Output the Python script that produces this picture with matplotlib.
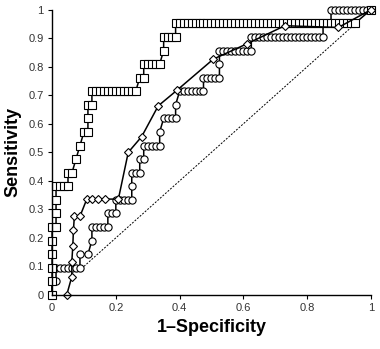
import matplotlib
matplotlib.use('Agg')
import matplotlib.pyplot as plt

plt.rcParams['font.family'] = ['Liberation Sans', 'DejaVu Sans']

# ROC data: false positives out of 80, true positives out of 21
N_NEG = 80
N_POS = 21

# squares
sq_fp = [0, 0, 0, 0, 0, 0, 1, 1, 1, 1, 2, 3, 4, 4, 5, 6, 7, 8, 9, 9, 9, 10,
         10, 11, 12, 13, 14, 15, 16, 17, 18, 19, 20, 21,
         22, 23, 23, 24, 25, 26, 27, 28, 28, 29, 30, 31,
         31, 32, 33, 34, 35, 36, 37, 38, 39, 40, 41, 42, 43, 44, 45, 46, 47, 48,
         49, 50, 51, 52, 53, 54, 55, 56, 57, 58, 59, 60, 61, 62, 63, 64, 65, 66,
         67, 68, 69, 70, 71, 72, 73, 74, 75, 76, 80]
sq_tp = [0, 1, 2, 3, 4, 5, 5, 6, 7, 8, 8, 8, 8, 9, 9, 10, 11, 12, 12, 13, 14, 14,
         15, 15, 15, 15, 15, 15, 15, 15, 15, 15, 15, 15,
         16, 16, 17, 17, 17, 17, 17, 18, 19, 19, 19, 19,
         20, 20, 20, 20, 20, 20, 20, 20, 20, 20, 20, 20, 20, 20, 20, 20, 20, 20,
         20, 20, 20, 20, 20, 20, 20, 20, 20, 20, 20, 20, 20, 20, 20, 20, 20, 20,
         20, 20, 20, 20, 20, 20, 20, 20, 20, 20, 21]

# circles
ci_fp = [0, 0, 1, 1, 2, 3, 4, 5, 6, 7, 7, 9, 10, 10, 11, 12, 13, 14,
         14, 15, 16, 16, 17, 18, 19, 20, 20, 20, 21, 22, 22, 23,
         23, 24, 25, 26, 27, 27, 28, 29, 30, 31, 31,
         32, 33, 34, 35, 36, 37, 38, 38, 39, 40, 41, 42, 42,
         42, 43, 44, 45, 46, 47, 48, 49, 50,
         50, 51, 52, 53, 54, 55, 56, 57, 58, 59, 60, 61, 62, 63, 64, 65, 66, 67, 68,
         68, 69, 70, 70, 71, 72, 73, 74, 75, 76, 77, 78, 79, 80]
ci_tp = [0, 1, 1, 2, 2, 2, 2, 2, 2, 2, 3, 3, 4, 5, 5, 5, 5, 5,
         6, 6, 6, 7, 7, 7, 7, 7, 8, 9, 9, 9, 10, 10,
         11, 11, 11, 11, 11, 12, 13, 13, 13, 13, 14,
         15, 15, 15, 15, 15, 15, 15, 16, 16, 16, 16, 16, 17,
         18, 18, 18, 18, 18, 18, 18, 18, 18,
         19, 19, 19, 19, 19, 19, 19, 19, 19, 19, 19, 19, 19, 19, 19, 19, 19, 19, 19,
         20, 20, 20, 21, 21, 21, 21, 21, 21, 21, 21, 21, 21, 21]

# diamonds (given directly as fractions)
di_x = [0.046, 0.062, 0.062, 0.065, 0.067, 0.070, 0.088, 0.109, 0.124, 0.145,
        0.166, 0.208, 0.239, 0.281, 0.333, 0.391, 0.506, 0.610, 0.730, 0.898, 1.0]
di_y = [0.0, 0.064, 0.117, 0.170, 0.226, 0.277, 0.277, 0.336, 0.336, 0.336,
        0.336, 0.336, 0.500, 0.555, 0.663, 0.717, 0.827, 0.880, 0.944, 0.938, 1.0]

ref_x = [0.1, 0.95]
ref_y = [0.1, 0.95]

fig = plt.figure(figsize=(3.8, 3.49), dpi=100)
ax = fig.add_axes([0.137, 0.155, 0.839, 0.817])

ax.plot(ref_x, ref_y, color='black', lw=0.7, ls=(0, (2, 1.5)))

ax.plot([f / N_NEG for f in ci_fp], [t / N_POS for t in ci_tp], color='black', lw=1.1,
        marker='o', ms=5.2, mfc='white', mec='black', mew=0.8, clip_on=False)
ax.plot([f / N_NEG for f in sq_fp], [t / N_POS for t in sq_tp], color='black', lw=1.1,
        marker='s', ms=5.2, mfc='white', mec='black', mew=0.8, clip_on=False)
ax.plot(di_x, di_y, color='black', lw=1.1,
        marker='D', ms=4.5, mfc='white', mec='black', mew=0.8, clip_on=False)

ax.set_xlim(0, 1)
ax.set_ylim(0, 1)
ax.set_xticks([0, 0.2, 0.4, 0.6, 0.8, 1])
ax.set_xticklabels(['0', '0.2', '0.4', '0.6', '0.8', '1'])
ax.set_yticks([0, 0.1, 0.2, 0.3, 0.4, 0.5, 0.6, 0.7, 0.8, 0.9, 1])
ax.set_yticklabels(['0', '0.1', '0.2', '0.3', '0.4', '0.5', '0.6', '0.7', '0.8', '0.9', '1'])
ax.spines['top'].set_visible(False)
ax.spines['right'].set_visible(False)
for s in ['left', 'bottom']:
    ax.spines[s].set_linewidth(1.0)
ax.tick_params(axis='both', direction='out', length=3, width=0.8, labelsize=8,
               labelcolor='#333333', pad=3)

ax.set_xlabel('1–Specificity', fontsize=13, fontweight='bold', labelpad=4)
ax.set_ylabel('Sensitivity', fontsize=13, fontweight='bold', labelpad=5)

fig.savefig('out.png', dpi=100)
